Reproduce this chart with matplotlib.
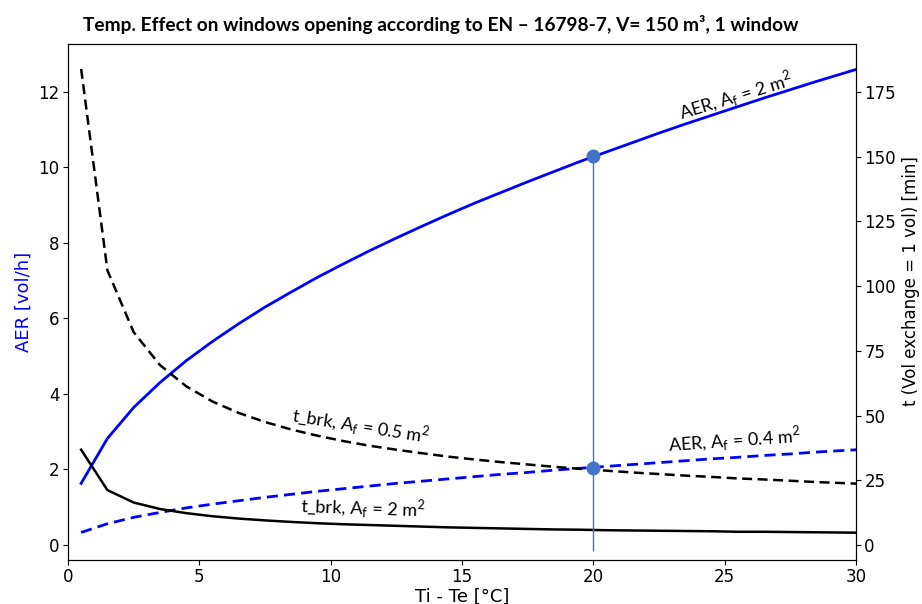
import matplotlib
matplotlib.use("Agg")
import matplotlib.pyplot as plt

dT = [0.5, 1.5, 2.5, 3.5, 4.5, 5.5, 6.5, 7.5, 8.5, 9.5, 10.5, 11.5, 12.5, 13.5, 14.5,
      15.5, 16.5, 17.5, 18.5, 19.5, 20.5, 21.5, 22.5, 23.5, 24.5, 25.5, 26.5, 27.5,
      28.5, 29.5, 30.5]
aer_af2 = [1.63, 2.82, 3.64, 4.30, 4.88, 5.39, 5.86, 6.30, 6.70, 7.09, 7.45, 7.80, 8.13,
           8.45, 8.76, 9.06, 9.34, 9.62, 9.89, 10.16, 10.41, 10.66, 10.91, 11.15, 11.38,
           11.61, 11.84, 12.06, 12.28, 12.49, 12.70]
aer_af04 = [0.33, 0.56, 0.73, 0.86, 0.98, 1.08, 1.17, 1.26, 1.34, 1.42, 1.49, 1.56, 1.63,
            1.69, 1.75, 1.81, 1.87, 1.92, 1.98, 2.03, 2.08, 2.13, 2.18, 2.23, 2.28, 2.32,
            2.37, 2.41, 2.46, 2.50, 2.54]
t_af05 = [183.9, 106.1, 82.2, 69.5, 61.3, 55.4, 51.0, 47.5, 44.6, 42.2, 40.1, 38.3, 36.8,
          35.4, 34.1, 33.0, 32.0, 31.1, 30.2, 29.4, 28.7, 28.0, 27.4, 26.8, 26.3, 25.7,
          25.3, 24.8, 24.3, 23.9, 23.5]
t_af2 = [36.8, 21.2, 16.4, 13.9, 12.3, 11.1, 10.2, 9.5, 8.9, 8.4, 8.0, 7.7, 7.4, 7.1, 6.8,
         6.6, 6.4, 6.2, 6.0, 5.9, 5.7, 5.6, 5.5, 5.4, 5.3, 5.1, 5.1, 5.0, 4.9, 4.8, 4.7]
mark_x = [20, 20]
mark_y = [10.29, 2.05]

title = "Temp. Effect on windows opening according to EN \u2013 16798-7, V= 150 m\u00b3, 1 window"

fig = plt.figure(figsize=(9.22, 6.04), dpi=100)
pos = [68/922, 1-560/604, (856-68)/922, (560-44)/604]
ax = fig.add_axes(pos)
ax2 = ax.twinx()

ax.plot(dT, aer_af2, color="blue", lw=2)
ax.plot(dT, aer_af04, color="blue", lw=2, ls=(0, (4, 2.2)))
ax2.plot(dT, t_af05, color="black", lw=1.8, ls=(0, (4, 2.2)))
ax2.plot(dT, t_af2, color="black", lw=1.8)

xlim = (0, 30)
ylim = (-0.4, 13.27)
ax.set_xlim(*xlim)
ax.set_ylim(*ylim)
ax2.set_ylim(-5.8, 193.5)
ax.set_xticks([0, 5, 10, 15, 20, 25, 30])
ax.set_yticks([0, 2, 4, 6, 8, 10, 12])
ax2.set_yticks([0, 25, 50, 75, 100, 125, 150, 175])

ax.tick_params(labelsize=12, pad=2.5)
ax2.tick_params(labelsize=12, pad=2.5)
ax.set_xlabel("Ti - Te [\u00b0C]", fontsize=13, labelpad=1)
ax.set_ylabel("AER [vol/h]", fontsize=13, color="blue")
ax2.set_ylabel("t (Vol exchange = 1 vol) [min]", fontsize=12)
ax2.yaxis.set_label_coords(1.058, 0.54)

# overlay axes for marker, vertical line and annotations
ax3 = fig.add_axes(pos, frameon=False)
ax3.set_xlim(*xlim)
ax3.set_ylim(*ylim)
ax3.axis("off")
ax3.vlines(mark_x[0], -0.15, mark_y[0], color="#4472C4", lw=1)
ax3.plot(mark_x, mark_y, "o", color="#4472C4", ms=9, ls="none")

fnt = "Lato"
ax3.text(25.43, 11.89, "AER, A$_\\mathregular{f}$ = 2 m$^\\mathregular{2}$", fontsize=13,
         family=fnt, rotation=17, ha="center", va="center")
ax3.text(11.15, 3.15, "t_brk, A$_\\mathregular{f}$ = 0.5 m$^\\mathregular{2}$", fontsize=13,
         family=fnt, rotation=-9, ha="center", va="center")
ax3.text(25.35, 2.78, "AER, A$_\\mathregular{f}$ = 0.4 m$^\\mathregular{2}$", fontsize=13,
         family=fnt, rotation=4, ha="center", va="center")
ax3.text(11.23, 0.98, "t_brk, A$_\\mathregular{f}$ = 2 m$^\\mathregular{2}$", fontsize=13,
         family=fnt, rotation=-2, ha="center", va="center")

fig.text(441/922, 1-25/604, title, fontsize=13.8, fontweight="bold", family=fnt,
         ha="center", va="center")

fig.savefig("out.png", dpi=100)
